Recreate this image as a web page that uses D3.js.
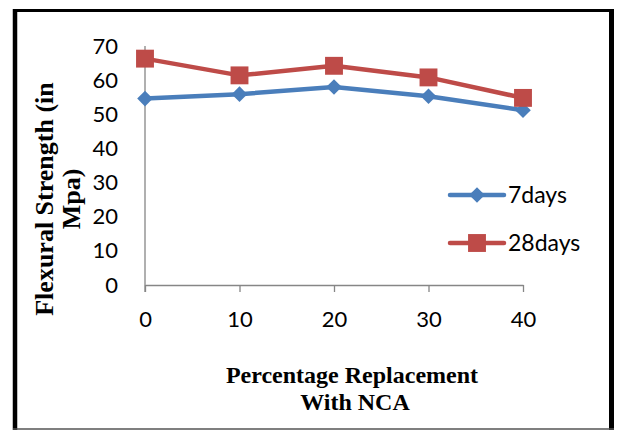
<!DOCTYPE html>
<html>
<head>
<meta charset="utf-8">
<script src="https://cdn.jsdelivr.net/npm/d3@7"></script>
<style>
  html, body { margin: 0; padding: 0; background: #fff; }
  svg { display: block; }
</style>
</head>
<body>
<svg id="chart" width="617" height="430"></svg>
<script>
// Flexural strength vs. NCA replacement percentage
const replacement = [0, 10, 20, 30, 40];
const days7 = [54.6, 55.9, 58.0, 55.3, 51.2];
const days28 = [66.3, 61.4, 64.2, 60.8, 54.8];
const yTicks = [0, 10, 20, 30, 40, 50, 60, 70];
const seriesNames = ["7days", "28days"];
const seriesColors = ["#4A7EBB", "#BE4B48"];

const svg = d3.select("#chart");

// outer frame
const frame = svg.append("g");
frame.append("line").attr("x1", 13).attr("x2", 614).attr("y1", 10.5).attr("y2", 10.5)
  .attr("stroke", "#000").attr("stroke-width", 3);
frame.append("line").attr("x1", 15).attr("x2", 15).attr("y1", 9).attr("y2", 430)
  .attr("stroke", "#000").attr("stroke-width", 4.5);
frame.append("line").attr("x1", 611.5).attr("x2", 611.5).attr("y1", 9).attr("y2", 430)
  .attr("stroke", "#000").attr("stroke-width", 5);
frame.append("line").attr("x1", 13).attr("x2", 614).attr("y1", 429).attr("y2", 429)
  .attr("stroke", "#555").attr("stroke-width", 1.5);

const x = d3.scaleLinear().domain([0, 40]).range([145, 523]);
const y = d3.scaleLinear().domain([0, 70]).range([285, 46]);

const tickFont = "Lato, 'Open Sans', sans-serif";

// y axis (no tick marks, labels on the left)
const yAxis = svg.append("g")
  .attr("transform", `translate(${x(0)},0)`)
  .call(d3.axisLeft(y).tickValues(yTicks).tickSize(0).tickPadding(27).tickFormat(d3.format("d")));
yAxis.select(".domain").attr("stroke", "#868686").attr("stroke-width", 1.3)
  .attr("d", `M0,${y(70)}V${y(0) + 7}`);
yAxis.selectAll("text").attr("font-family", tickFont)
  .attr("font-size", 22).attr("fill", "#000");

// x axis with downward ticks
const xAxis = svg.append("g")
  .attr("transform", `translate(0,${y(0)})`)
  .call(d3.axisBottom(x).tickValues(replacement).tickSize(7).tickSizeOuter(0).tickPadding(19).tickFormat(d3.format("d")));
xAxis.select(".domain").attr("stroke", "#868686").attr("stroke-width", 1.3);
xAxis.selectAll(".tick line").attr("stroke", "#868686").attr("stroke-width", 1.3);
xAxis.selectAll("text").attr("font-family", tickFont)
  .attr("font-size", 22).attr("fill", "#000");

// series
const series = [days7, days28];
const line = d3.line().x((d, i) => x(replacement[i])).y(d => y(d));
const diamond = d3.symbol().type(d3.symbolDiamond2).size(155);
const square = d3.symbol().type(d3.symbolSquare).size(320);
const shapes = [diamond, square];

series.forEach((vals, s) => {
  svg.append("path").datum(vals)
    .attr("d", line).attr("fill", "none")
    .attr("stroke", seriesColors[s]).attr("stroke-width", 4.5)
    .attr("stroke-linejoin", "round").attr("stroke-linecap", "round");
  svg.append("g").selectAll("path").data(vals).join("path")
    .attr("transform", (d, i) => `translate(${x(replacement[i])},${y(d)})`)
    .attr("d", shapes[s]).attr("fill", seriesColors[s]);
});

// legend
const legendY = [195, 243];
seriesNames.forEach((name, s) => {
  const g = svg.append("g").attr("transform", `translate(0,${legendY[s]})`);
  g.append("line").attr("x1", 450).attr("x2", 504).attr("y1", 0).attr("y2", 0)
    .attr("stroke", seriesColors[s]).attr("stroke-width", 4.5).attr("stroke-linecap", "round");
  g.append("path").attr("transform", "translate(477,0)")
    .attr("d", shapes[s]).attr("fill", seriesColors[s]);
  g.append("text").attr("x", 508).attr("y", 0).attr("dy", "0.35em")
    .attr("font-family", tickFont).attr("font-size", 23)
    .attr("fill", "#000").text(name);
});

// axis titles
const titleFont = "'Liberation Serif', 'Times New Roman', serif";
const yTitle = svg.append("text")
  .attr("transform", "translate(0,199) rotate(-90)")
  .attr("text-anchor", "middle").attr("font-family", titleFont)
  .attr("font-weight", "bold").attr("font-size", 26).attr("fill", "#000");
yTitle.append("tspan").attr("x", 0).attr("y", 53).text("Flexural Strength (in");
yTitle.append("tspan").attr("x", 0).attr("y", 80).text("Mpa)");

const xTitle = svg.append("text")
  .attr("text-anchor", "middle").attr("font-family", titleFont)
  .attr("font-weight", "bold").attr("font-size", 24).attr("fill", "#000");
xTitle.append("tspan").attr("x", 352).attr("y", 383).text("Percentage Replacement");
xTitle.append("tspan").attr("x", 355).attr("y", 410).text("With NCA");
</script>
</body>
</html>
